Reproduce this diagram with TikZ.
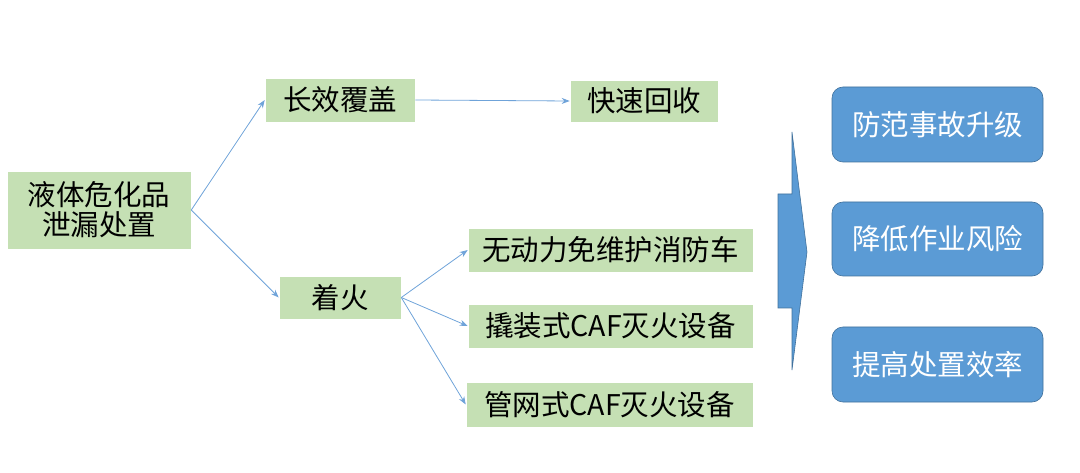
\documentclass[tikz,border=0pt]{standalone}
\usepackage{fontspec}
\newfontfamily\cjk{Noto Sans CJK SC}
\usetikzlibrary{arrows.meta}
\definecolor{boxgreen}{HTML}{C5E0B4}
\definecolor{boxblue}{HTML}{5B9BD5}
\definecolor{edgeblue}{HTML}{41719C}
\definecolor{linkblue}{HTML}{6FA3D9}

\tikzstyle{step box} = [fill=boxgreen, draw=white, line width=0.6pt, inner sep=0pt, align=center, font=\cjk\fontsize{28.5}{30}\selectfont]
\tikzstyle{goal} = [fill=boxblue, draw=edgeblue, line width=0.6pt, rounded corners=11pt, inner sep=0pt, text=white, minimum width=211pt, font=\cjk\fontsize{28.5}{30}\selectfont]
\tikzstyle{link} = [draw=linkblue, line width=0.8pt, -{Stealth[length=8pt,width=6pt]}]

\begin{document}
\begin{tikzpicture}[x=1pt, y=-1pt]
\useasboundingbox (0,0) rectangle (1080,473);

\node[step box, minimum width=184pt, minimum height=78pt] (spill) at (99,210) {液体危化品\\泄漏处置};
\node[step box, minimum width=150pt, minimum height=44pt] (cover) at (340,100) {长效覆盖};
\node[step box, minimum width=148pt, minimum height=42pt] (recover) at (644,101) {快速回收};
\node[step box, minimum width=122pt, minimum height=43pt] (fire) at (340,297.5) {着火};
\node[step box, minimum width=285pt, minimum height=44pt] (truck) at (610.5,250) {无动力免维护消防车};
\node[step box, minimum width=285pt, minimum height=44pt] (skid) at (610.5,326) {撬装式CAF灭火设备};
\node[step box, minimum width=287pt, minimum height=45pt] (pipe) at (609.5,404.5) {管网式CAF灭火设备};

\draw[link] (spill.east) -- (cover.west);
\draw[link] (spill.east) -- (fire.west);
\draw[link] (cover.east) -- (recover.west);
\draw[link] (fire.east) -- (truck.west);
\draw[link] (fire.east) -- (skid.west);
\draw[link] (fire.east) -- (pipe.west);

\filldraw[fill=boxblue, draw=edgeblue, line width=0.6pt]
  (778,194) -- (792,194) -- (792,132) -- (807,252) -- (792,370) -- (792,308) -- (778,308) -- cycle;

\node[goal, minimum height=75pt] (prevent) at (937.5,124.5) {防范事故升级};
\node[goal, minimum height=74pt] (risk) at (937.5,239) {降低作业风险};
\node[goal, minimum height=75pt] (speed) at (937.5,364.5) {提高处置效率};
\end{tikzpicture}
\end{document}
